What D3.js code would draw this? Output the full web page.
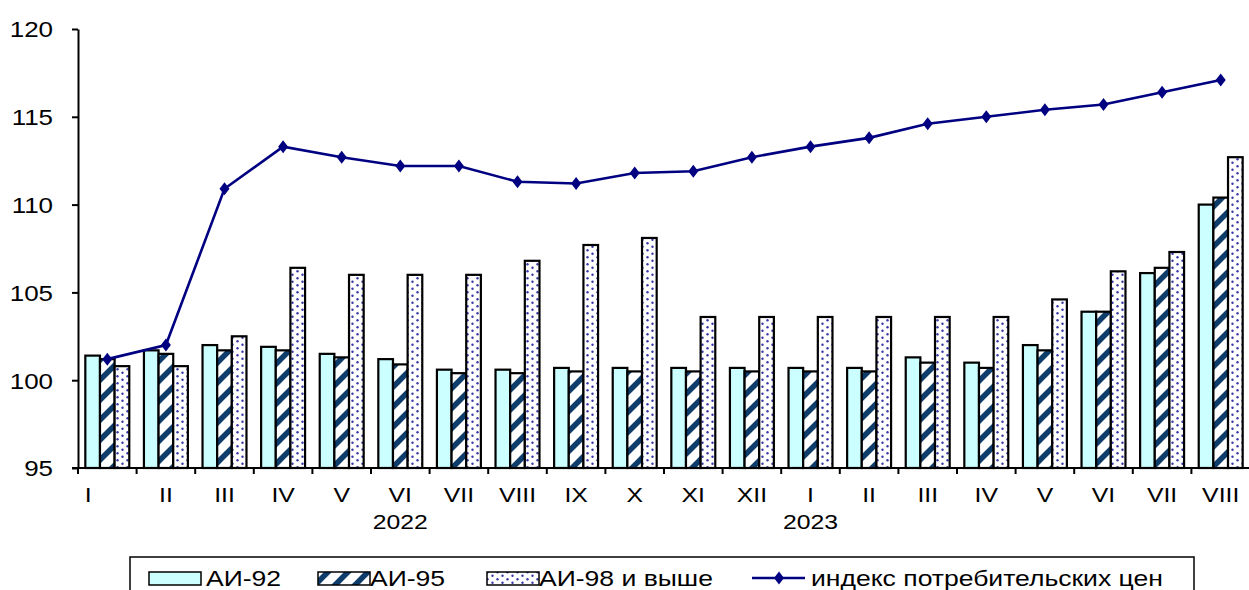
<!DOCTYPE html>
<html><head><meta charset="utf-8">
<script src="https://cdn.jsdelivr.net/npm/d3@7"></script>
<style>
body{margin:0;background:#fff;}
svg{display:block;}
text{font-family:"Liberation Sans",Arial,sans-serif;fill:#000;}
</style>
</head><body>
<svg id="c" width="1249" height="590"></svg>
<script>
// ---- data ----
const months = ["I","II","III","IV","V","VI","VII","VIII","IX","X","XI","XII","I","II","III","IV","V","VI","VII","VIII"];
const yearLabels = ["2022","2023"];
const yearAt = [5,12];
const ai92 = [101.4,101.7,102.0,101.9,101.5,101.2,100.6,100.6,100.7,100.7,100.7,100.7,100.7,100.7,101.3,101.0,102.0,103.9,106.1,110.0];
const ai95 = [101.2,101.5,101.7,101.7,101.3,100.9,100.4,100.4,100.5,100.5,100.5,100.5,100.5,100.5,101.0,100.7,101.7,103.9,106.4,110.4];
const ai98 = [100.8,100.8,102.5,106.4,106.0,106.0,106.0,106.8,107.7,108.1,103.6,103.6,103.6,103.6,103.6,103.6,104.6,106.2,107.3,112.7];
const cpi  = [101.2,102.0,110.9,113.3,112.7,112.2,112.2,111.3,111.2,111.8,111.9,112.7,113.3,113.8,114.6,115.0,115.4,115.7,116.4,117.1];
const yTicks = [95,100,105,110,115,120];
const seriesNames = ["АИ-92","АИ-95","АИ-98 и выше"];
const lineName = "индекс потребительских цен";

// ---- layout ----
const svg = d3.select("#c");
const L = 78, R = 1250, T = 29, B = 468;
const SX = 1.18; // horizontal text stretch
const idx = d3.range(months.length);
const x = d3.scaleBand().domain(idx).range([L, R]).paddingInner(0.25).paddingOuter(0.125);
const step = x.step();
const x1 = d3.scaleBand().domain([0,1,2]).range([0, x.bandwidth()]);
const y = d3.scaleLinear().domain([95,120]).range([B, T]);

// ---- patterns ----
const defs = svg.append("defs");
const hatch = defs.append("pattern").attr("id","hatch").attr("patternUnits","userSpaceOnUse")
  .attr("width",20).attr("height",20);
hatch.append("rect").attr("width",20).attr("height",20).attr("fill","#fff");
hatch.append("path").attr("d","M-5,25 L25,-5 M-25,25 L5,-5 M15,25 L45,-5")
  .attr("stroke","#0e3d6c").attr("stroke-width",5.5);

const dots = defs.append("pattern").attr("id","dots").attr("patternUnits","userSpaceOnUse")
  .attr("width",10).attr("height",7);
dots.append("rect").attr("width",10).attr("height",7).attr("fill","#fff");
dots.append("circle").attr("cx",2.5).attr("cy",1.75).attr("r",1.2).attr("fill","#3a3aa6");
dots.append("circle").attr("cx",7.5).attr("cy",5.25).attr("r",1.2).attr("fill","#3a3aa6");

const fills = ["#ccffff","url(#hatch)","url(#dots)"];
const series = [ai92, ai95, ai98];

// ---- bars ----
series.forEach((vals, s) => {
  svg.append("g").selectAll("rect").data(vals).join("rect")
    .attr("x", (d,i) => x(i) + x1(s))
    .attr("y", d => y(d))
    .attr("width", x1.bandwidth())
    .attr("height", d => y(95) - y(d))
    .attr("fill", fills[s])
    .attr("stroke", "#000").attr("stroke-width", 2.2);
});

// ---- axes ----
const yAxis = svg.append("g").attr("transform",`translate(${L},0)`)
  .call(d3.axisLeft(y).tickValues(yTicks).tickSize(6).tickSizeOuter(0));
yAxis.select(".domain").attr("stroke","#000").attr("stroke-width",2);
yAxis.selectAll(".tick line").attr("stroke","#000").attr("stroke-width",2);
yAxis.selectAll(".tick text").attr("x",null).attr("dy","0.36em")
  .attr("transform",`translate(-25,0) scale(${SX},1)`)
  .style("font-size","22px").attr("text-anchor","end");

// x axis baseline and boundary ticks
svg.append("line").attr("x1",L-6).attr("x2",R).attr("y1",B).attr("y2",B)
  .attr("stroke","#000").attr("stroke-width",2);
svg.append("g").selectAll("line").data(idx).join("line")
  .attr("x1", i => x(i) - step*0.125).attr("x2", i => x(i) - step*0.125)
  .attr("y1", B).attr("y2", B + 6).attr("stroke","#000").attr("stroke-width",2);

const xAxis = svg.append("g").attr("transform",`translate(0,${B})`)
  .call(d3.axisBottom(x).tickFormat(i => months[i]).tickSize(0));
xAxis.select(".domain").remove();
xAxis.selectAll(".tick text").attr("y",null).attr("dy",null)
  .attr("transform", i => `translate(${i===0?-19:0},34) scale(${SX},1)`)
  .style("font-size","21px");

svg.append("g").selectAll("text").data(yearLabels).join("text")
  .attr("transform",(d,k) => `translate(${x(yearAt[k]) + x.bandwidth()/2},${B+61}) scale(${SX},1)`)
  .attr("text-anchor","middle").style("font-size","21px").text(d => d);

// ---- CPI line ----
const line = d3.line().x((d,i) => x(i) + x.bandwidth()/2).y(d => y(d));
svg.append("path").datum(cpi).attr("d", line).attr("fill","none")
  .attr("stroke","#000080").attr("stroke-width",2.6);
const diamond = "M0,-6.5L5,0L0,6.5L-5,0Z";
svg.append("g").selectAll("path").data(cpi).join("path")
  .attr("transform",(d,i) => `translate(${x(i)+x.bandwidth()/2},${y(d)})`)
  .attr("d", diamond).attr("fill","#000080");

// ---- legend ----
const lg = svg.append("g");
lg.append("rect").attr("x",130).attr("y",557).attr("width",1064).attr("height",50)
  .attr("fill","#fff").attr("stroke","#000").attr("stroke-width",1.5);
const swX = [149, 318, 487];
const txX = [206, 370, 539];
seriesNames.forEach((n,s) => {
  lg.append("rect").attr("x",swX[s]).attr("y",572).attr("width",52).attr("height",13)
    .attr("fill",fills[s]).attr("stroke","#000").attr("stroke-width",1.5);
  lg.append("text").attr("transform",`translate(${txX[s]},586) scale(${SX},1)`)
    .style("font-size","22.5px").text(n);
});
lg.append("line").attr("x1",752).attr("x2",805).attr("y1",578).attr("y2",578)
  .attr("stroke","#000080").attr("stroke-width",2.6);
lg.append("path").attr("transform","translate(779,578)").attr("d",diamond).attr("fill","#000080");
lg.append("text").attr("transform",`translate(811,586) scale(${SX},1)`)
  .style("font-size","22.5px").text(lineName);
</script>
</body></html>
